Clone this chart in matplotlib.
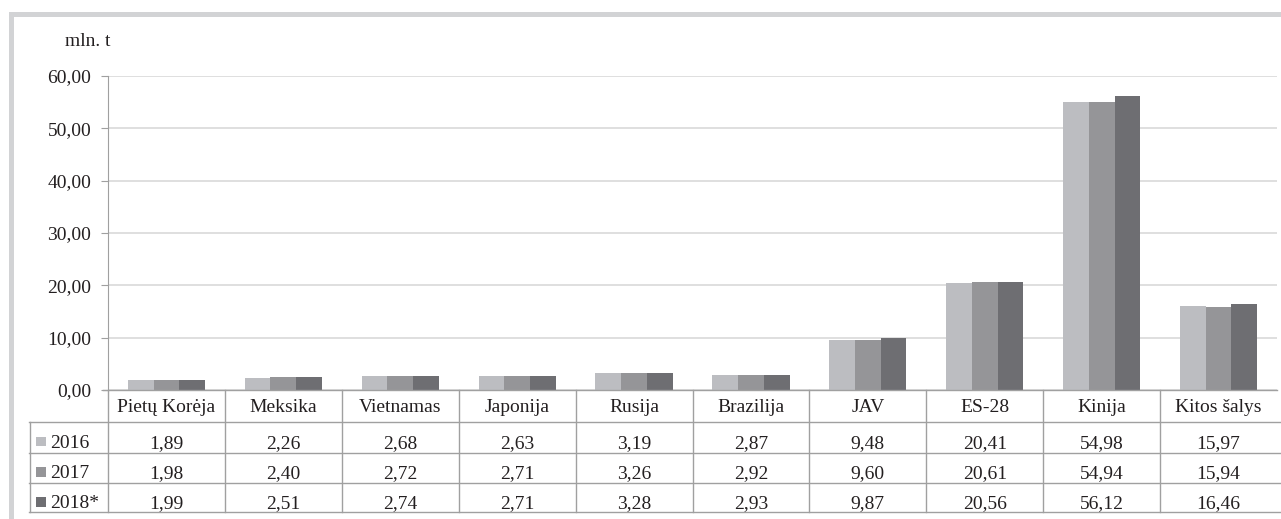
import matplotlib.pyplot as plt
from matplotlib.patches import Rectangle
from matplotlib.lines import Line2D
import numpy as np

plt.rcParams['font.family'] = ['Liberation Serif', 'DejaVu Serif']
plt.rcParams['text.color'] = '#231f20'
plt.rcParams['ytick.labelcolor'] = '#231f20'

# Data
countries = ['Pietų Korėja', 'Meksika', 'Vietnamas', 'Japonija', 'Rusija',
             'Brazilija', 'JAV', 'ES-28', 'Kinija', 'Kitos šalys']
years = ['2016', '2017', '2018*']
v2016 = [1.89, 2.26, 2.68, 2.63, 3.19, 2.87, 9.48, 20.41, 54.98, 15.97]
v2017 = [1.98, 2.40, 2.72, 2.71, 3.26, 2.92, 9.60, 20.61, 54.94, 15.94]
v2018 = [1.99, 2.51, 2.74, 2.71, 3.28, 2.93, 9.87, 20.56, 56.12, 16.46]
series = [v2016, v2017, v2018]
colors = ['#bcbdc1', '#959598', '#6e6e72']
y_ticks = [0, 10, 20, 30, 40, 50, 60]

W, H = 1281, 519
fig = plt.figure(figsize=(W / 100, H / 100), dpi=100)

# outer grey frame (top and left edges)
fig.patches.append(Rectangle((9 / W, 0), 5 / W, (H - 12) / H, transform=fig.transFigure,
                             color='#d2d3d5', lw=0))
fig.patches.append(Rectangle((9 / W, (H - 17) / H), (W - 9) / W, 5 / H, transform=fig.transFigure,
                             color='#d2d3d5', lw=0))

x0, x1, yb, yt = 108, 1277, 390, 76
ax = fig.add_axes([x0 / W, (H - yb) / H, (x1 - x0) / W, (yb - yt) / H])

n = len(countries)
x = np.arange(n)
bw = 0.22
for i, vals in enumerate(series):
    ax.bar(x + (i - 1) * bw, vals, bw, color=colors[i], zorder=3)

ax.set_xlim(-0.5, n - 0.5)
ax.set_ylim(0, 60)
ax.set_yticks(y_ticks)
ax.yaxis.set_major_formatter(plt.FuncFormatter(lambda v, p: ('%.2f' % v).replace('.', ',')))
ax.tick_params(axis='y', length=5, color='#a0a0a0', labelsize=14, pad=7)
ax.set_xticks([])
ax.grid(axis='y', color='#d9d9d9', lw=1.2, zorder=0)
for s in ['top', 'right', 'bottom']:
    ax.spines[s].set_visible(False)
ax.spines['left'].set_color('#a0a0a0')

fig.text(65 / W, (H - 46) / H, 'mln. t', fontsize=14, va='baseline')

# data table below the axes
lc = '#a0a0a0'
def fy(py):
    return (H - py) / H
def fx(px):
    return px / W

# zero line, extended to the left like a tick
fig.add_artist(Line2D([fx(103), fx(x1)], [fy(yb), fy(yb)], color=lc, lw=1))
rows = [422, 452.5, 482.5, 511.5]
for r in rows:
    fig.add_artist(Line2D([fx(29), fx(W)], [fy(r), fy(r)], color=lc, lw=1))
fig.add_artist(Line2D([fx(29.5), fx(29.5)], [fy(422), fy(511.5)], color=lc, lw=1))
cw = (x1 - x0) / n
for k in range(n):
    px = x0 + k * cw
    fig.add_artist(Line2D([fx(px), fx(px)], [fy(yb), fy(511.5)], color=lc, lw=1))

for k, c in enumerate(countries):
    fig.text(fx(x0 + (k + 0.5) * cw), fy(yb + 22), c, ha='center', va='baseline', fontsize=14)
for i, vals in enumerate(series):
    base = rows[i] + 26
    fig.patches.append(Rectangle((fx(36), fy(base - 2)), 9.5 / W, 9.5 / H, transform=fig.transFigure,
                                 color=colors[i], lw=0))
    fig.text(fx(50), fy(base), years[i], ha='left', va='baseline', fontsize=14)
    for k, v in enumerate(vals):
        fig.text(fx(x0 + (k + 0.5) * cw), fy(base), ('%.2f' % v).replace('.', ','),
                 ha='center', va='baseline', fontsize=14)

fig.savefig('out.png', dpi=100)
